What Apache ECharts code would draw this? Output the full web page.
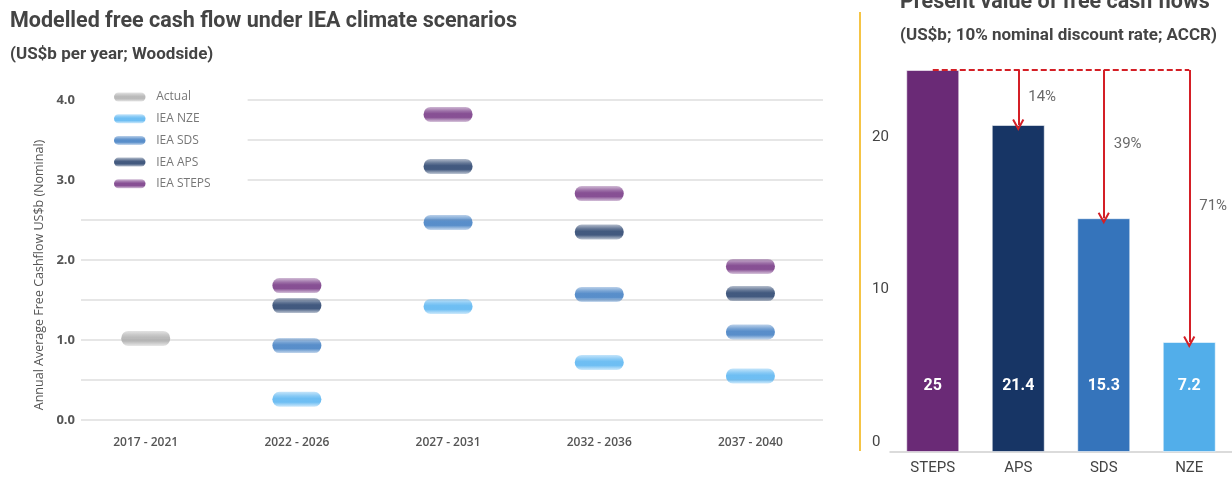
<!DOCTYPE html>
<html>
<head>
<meta charset="utf-8">
<script src="https://cdn.jsdelivr.net/npm/echarts@6/dist/echarts.min.js"></script>
<style>
  html, body { margin: 0; padding: 0; background: #fff; }
  #chart { width: 1232px; height: 477px; }
</style>
</head>
<body>
<div id="chart"></div>
<script>
// Modelled free cash flow by period (US$b per year)
const periods = ['2017 - 2021', '2022 - 2026', '2027 - 2031', '2032 - 2036', '2037 - 2040'];
const actual    = [1.02, null, null, null, null];
const ieaNze    = [null, 0.26, 1.42, 0.72, 0.55];
const ieaSds    = [null, 0.93, 2.47, 1.57, 1.10];
const ieaAps    = [null, 1.43, 3.17, 2.35, 1.58];
const ieaSteps  = [null, 1.68, 3.82, 2.83, 1.92];
const leftTicks = [0, 1, 2, 3, 4];

// Present value of free cash flows (US$b)
const pvScenarios = ['STEPS', 'APS', 'SDS', 'NZE'];
const pvValues    = [25, 21.4, 15.3, 7.2];
const rightTicks  = [0, 10, 20];

const scenarioColors = {
  'Actual':    '#a9a9a9',
  'IEA NZE':   '#4aaef0',
  'IEA SDS':   '#2f72bd',
  'IEA APS':   '#13305f',
  'IEA STEPS': '#692479'
};
const barColors = ['#6a2a76', '#173565', '#3574bb', '#52aeea'];
const RED = '#d41f26';

function rgba(hex, a) {
  const n = parseInt(hex.slice(1), 16);
  return 'rgba(' + (n >> 16) + ',' + ((n >> 8) & 255) + ',' + (n & 255) + ',' + a + ')';
}
function pillFill(hex) {
  return {
    type: 'linear', x: 0, y: 0, x2: 0, y2: 1,
    colorStops: [
      { offset: 0, color: rgba(hex, 0.4) },
      { offset: 0.28, color: rgba(hex, 0.82) },
      { offset: 0.45, color: rgba(hex, 1) },
      { offset: 0.7, color: rgba(hex, 1) },
      { offset: 1, color: rgba(hex, 0.35) }
    ]
  };
}
const PILL = 'path://M7,0 L42,0 A7,7 0 0 1 42,14 L7,14 A7,7 0 0 1 7,0 Z';
const CHEVRON = 'path://M0,10.5 L6,0 L12,10.5 L10.3,11.5 L6,4 L1.7,11.5 Z';

function toPoints(arr) {
  return arr.map((v, i) => (v == null ? null : [i, v])).filter(p => p);
}
function scenarioSeries(name, arr) {
  return {
    name: name,
    type: 'scatter',
    xAxisIndex: 0,
    yAxisIndex: 0,
    symbol: PILL,
    symbolSize: [49, 15],
    itemStyle: { color: pillFill(scenarioColors[name]) },
    data: toPoints(arr),
    z: 3
  };
}

const pvTop = pvValues[0];
const pctLabels = pvValues.map(v => Math.round((1 - v / pvTop) * 100) + '%');

const chart = echarts.init(document.getElementById('chart'), null, { renderer: 'canvas' });

chart.setOption({
  animation: false,
  backgroundColor: '#fff',
  title: [
    {
      text: 'Modelled free cash flow under IEA climate scenarios',
      left: 5, top: 6,
      textStyle: { fontFamily: 'Roboto', fontWeight: 'bold', fontSize: 21.5, color: '#444' }
    },
    {
      text: '(US$b per year; Woodside)',
      left: 5, top: 41,
      textStyle: { fontFamily: 'Roboto', fontWeight: 'bold', fontSize: 17, color: '#444' }
    },
    {
      text: 'Present value of free cash flows',
      left: 895, top: -13,
      textStyle: { fontFamily: 'Roboto', fontWeight: 'bold', fontSize: 21.5, color: '#444' }
    },
    {
      text: '(US$b; 10% nominal discount rate; ACCR)',
      left: 895, top: 22,
      textStyle: { fontFamily: 'Roboto', fontWeight: 'bold', fontSize: 17, color: '#444' }
    }
  ],
  legend: {
    data: ['Actual', 'IEA NZE', 'IEA SDS', 'IEA APS', 'IEA STEPS'],
    orient: 'vertical',
    left: 81, top: 84,
    padding: [7, 37, 8, 33],
    backgroundColor: '#fff',
    itemWidth: 33, itemHeight: 9, itemGap: 9.7,
    icon: PILL,
    textStyle: { fontFamily: 'Open Sans', fontSize: 12, color: '#777', padding: [0, 0, 0, 5] },
    selectedMode: false
  },
  grid: [
    { left: 81, top: 100, width: 742, height: 320 },
    { left: 890, top: 70, width: 348, height: 382 }
  ],
  xAxis: [
    {
      type: 'value', gridIndex: 0,
      min: -0.428, max: 4.48,
      axisLine: { show: false }, axisTick: { show: false }, splitLine: { show: false },
      axisLabel: {
        customValues: [0, 1, 2, 3, 4],
        formatter: v => periods[Math.round(v)],
        margin: 17,
        fontFamily: 'Open Sans', fontWeight: 600, fontSize: 12, color: '#555'
      }
    },
    {
      type: 'category', gridIndex: 1,
      data: pvScenarios,
      axisLine: { lineStyle: { color: '#cfcfcf', width: 1.5 } },
      axisTick: { show: false },
      axisLabel: { margin: 9, fontFamily: 'Roboto', fontSize: 15, color: '#444' }
    }
  ],
  yAxis: [
    {
      type: 'value', gridIndex: 0,
      min: 0, max: 4, interval: 0.5,
      name: 'Annual Average Free Cashflow US$b (Nominal)',
      nameLocation: 'middle', nameGap: 26,
      nameTextStyle: { fontFamily: 'Open Sans', fontSize: 12.5, color: '#555', padding: [0, 30, 0, 0] },
      axisLine: { show: false }, axisTick: { show: false },
      splitLine: { lineStyle: { color: '#dedede', width: 1.5 } },
      axisLabel: {
        customValues: leftTicks,
        formatter: v => v.toFixed(1),
        margin: 6,
        padding: [0, 0, 14, 0],
        fontFamily: 'Open Sans', fontWeight: 'bold', fontSize: 13, color: '#555'
      }
    },
    {
      type: 'value', gridIndex: 1,
      min: 0, max: pvTop,
      axisLine: { show: false }, axisTick: { show: false }, splitLine: { show: false },
      axisLabel: {
        customValues: rightTicks,
        align: 'left', verticalAlign: 'bottom',
        margin: 18,
        padding: [0, 0, 2, 0],
        fontFamily: 'Roboto', fontSize: 15, color: '#444'
      }
    }
  ],
  graphic: [
    {
      type: 'line',
      shape: { x1: 860, y1: 12, x2: 860, y2: 451 },
      style: { stroke: '#f5c445', lineWidth: 2 },
      silent: true
    }
  ],
  series: [
    scenarioSeries('Actual', actual),
    scenarioSeries('IEA NZE', ieaNze),
    scenarioSeries('IEA SDS', ieaSds),
    scenarioSeries('IEA APS', ieaAps),
    scenarioSeries('IEA STEPS', ieaSteps),
    {
      name: 'Present value',
      type: 'bar',
      xAxisIndex: 1, yAxisIndex: 1,
      barWidth: 53,
      data: pvValues.map((v, i) => ({
        value: v,
        itemStyle: { color: barColors[i], borderColor: 'rgba(255,255,255,0.55)', borderWidth: 1 }
      })),
      label: {
        show: true,
        position: 'insideBottom',
        distance: 58,
        fontFamily: 'Roboto', fontWeight: 'bold', fontSize: 16, color: '#fff'
      },
      markLine: {
        silent: true,
        animation: false,
        symbol: ['none', CHEVRON],
        symbolSize: [12, 12],
        label: { show: false },
        lineStyle: { color: RED, width: 2, type: 'solid' },
        data: [
          [
            { coord: [0, pvTop], symbol: 'none', lineStyle: { type: [6, 3], color: RED, width: 2 } },
            { coord: [pvValues.length - 1, pvTop], symbol: 'none' }
          ]
        ].concat(pvValues.slice(1).map((v, i) => [
          { coord: [i + 1, pvTop] },
          { coord: [i + 1, v] }
        ]))
      },
      z: 2
    },
    {
      name: 'Reduction vs STEPS',
      type: 'scatter',
      xAxisIndex: 1, yAxisIndex: 1,
      symbolSize: 0,
      data: pvValues.slice(1).map((v, i) => ({
        value: [i + 1, (pvTop + v) / 2],
        label: { formatter: pctLabels[i + 1] }
      })),
      label: {
        show: true,
        position: 'right',
        distance: 10,
        fontFamily: 'Roboto', fontSize: 15, color: '#444'
      },
      z: 4
    }
  ]
});
</script>
</body>
</html>
